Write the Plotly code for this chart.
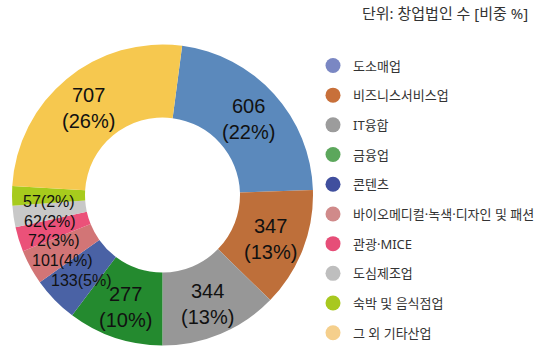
import math
import plotly.graph_objects as go

categories = ["도소매업", "비즈니스서비스업", "IT융합", "금융업", "콘텐츠",
              "바이오메디컬·녹색·디자인 및 패션", "관광·MICE", "도심제조업",
              "숙박 및 음식점업", "그 외 기타산업"]
values = [606, 347, 344, 277, 133, 101, 72, 62, 57, 707]
percents = [22, 13, 13, 10, 5, 4, 3, 2, 2, 26]
slice_colors = ["#5B89BC", "#BE6F3A", "#979797", "#248A2F", "#4A62A5",
                "#D27576", "#EB5179", "#C8C8C8", "#A7CB1D", "#F6C84F"]
legend_colors = ["#7A87C3", "#C8703A", "#9C9C9C", "#5CA75C", "#404F9E",
                 "#D08A8A", "#E64E78", "#BEBEBE", "#A8C81F", "#F5CF8C"]
unit_label = "단위: 창업법인 수 [비중 %]"

FONT = "Noto Sans, Noto Sans CJK KR"
NUM_FONT = "Liberation Sans"
W, H = 540, 352
ROT = 7.5
total = sum(values)
big = [v / total >= 0.08 for v in values]

dom_x = [12 / W, 313 / W]
dom_y = [1 - 347 / H, 1 - 43 / H]

fig = go.Figure()
fig.add_trace(go.Pie(
    labels=categories, values=values, textinfo="none",
    sort=False, direction="clockwise", rotation=ROT, hole=0.515,
    marker=dict(colors=slice_colors, line=dict(width=0)),
    domain=dict(x=dom_x, y=dom_y), showlegend=False, hoverinfo="label+value",
))

cx = (dom_x[0] + dom_x[1]) / 2 * W
cy = (1 - (dom_y[0] + dom_y[1]) / 2) * H


def to_paper(px, py):
    return px / W, 1 - py / H


# labels placed at the slice mid-angles
cum = 0
small = []
for v, p, b in zip(values, percents, big):
    mid = cum + v / 2
    cum += v
    ang = math.radians(ROT + 360 * mid / total)
    if b:
        r = 116
        px = cx + r * math.sin(ang)
        py = cy - r * math.cos(ang) + 2
        x, y = to_paper(px, py)
        fig.add_annotation(x=x, y=y, xref="paper", yref="paper",
                           text=f"{v}<br>({p}%)",
                           showarrow=False, xanchor="center", yanchor="middle",
                           font=dict(family=NUM_FONT, size=20, color="#111111"))
    else:
        r = 114
        small.append([cx + r * math.sin(ang), cy - r * math.cos(ang) + 6, f"{v}({p}%)"])

# spread the small labels vertically so they do not collide
small.sort(key=lambda s: s[1])
GAP = 19.5
for i in range(1, len(small)):
    if small[i][1] - small[i - 1][1] < GAP:
        small[i][1] = small[i - 1][1] + GAP
for px, py, txt in small:
    x, y = to_paper(px, py)
    fig.add_annotation(x=x, y=y, xref="paper", yref="paper", text=txt,
                       showarrow=False, xanchor="center", yanchor="middle",
                       borderpad=0,
                       font=dict(family=NUM_FONT, size=16, color="#111111"))

# legend entries with round markers
for i, (c, col) in enumerate(zip(categories, legend_colors)):
    fig.add_trace(go.Scatter(
        x=[None], y=[None], mode="markers", name=c, legendgroup=str(i),
        marker=dict(symbol="circle", size=15, color=col),
    ))

fig.add_annotation(x=530 / W, y=1 - 13 / H, xref="paper", yref="paper",
                   xanchor="right", yanchor="middle", text=unit_label,
                   showarrow=False, font=dict(family=FONT, size=15, color="#333333"))

fig.update_layout(
    width=W, height=H, margin=dict(l=0, r=0, t=0, b=0, autoexpand=False),
    paper_bgcolor="white", plot_bgcolor="white",
    xaxis=dict(visible=False), yaxis=dict(visible=False),
    legend=dict(x=313 / W, xanchor="left", y=1 - 50.5 / H, yanchor="top",
                font=dict(family=FONT, size=13, color="#333333"),
                tracegroupgap=9.8, itemsizing="trace", bgcolor="rgba(0,0,0,0)"),
    showlegend=True,
)
fig.write_html("out.html")
